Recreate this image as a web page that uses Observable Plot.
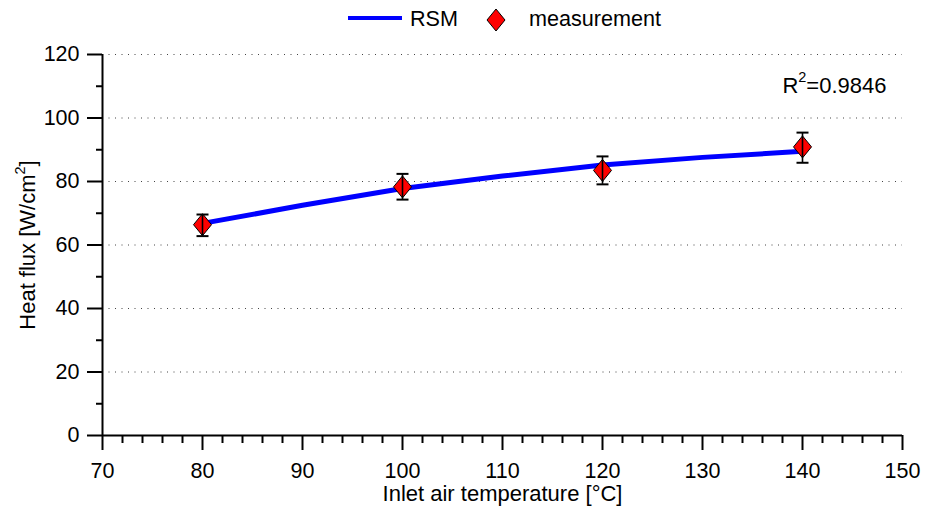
<!DOCTYPE html>
<html>
<head>
<meta charset="utf-8">
<script src="https://cdn.jsdelivr.net/npm/d3@7"></script>
<script src="https://cdn.jsdelivr.net/npm/@observablehq/plot@0.6"></script>
<style>
  html, body { margin: 0; padding: 0; background: #fff; }
  #wrap { position: relative; width: 925px; height: 510px; font-family: "Liberation Sans", Arial, Helvetica, sans-serif; }
  #legend { position: absolute; left: 0; top: 0; width: 925px; height: 40px; }
  #legend .sw-line { position: absolute; left: 348px; top: 15.5px; width: 54px; height: 4px; background: #0000ff; }
  #legend .lbl { position: absolute; font-size: 21.6px; line-height: 21px; color: #000; white-space: nowrap; }
  #legend svg { position: absolute; }
</style>
</head>
<body>
<div id="wrap">
  <div id="chart"></div>
  <div id="legend">
    <div class="sw-line"></div>
    <span class="lbl" id="lg-rsm" style="left:410px; top:8px;"></span>
    <svg width="22" height="24" style="left:484.5px; top:7.5px;"><polygon points="11,1 20,12 11,23 2,12" fill="#ff0000" stroke="#000" stroke-width="1"/></svg>
    <span class="lbl" id="lg-meas" style="left:529px; top:8px;"></span>
  </div>
</div>
<script>
// ---- data ----
const seriesNames = ["RSM", "measurement"];
const rsmT = [80, 90, 100, 110, 120, 130, 140];
const rsmQ = [66.8, 72.5, 77.8, 81.7, 85.2, 87.6, 89.5];
const measT = [80, 100, 120, 140];
const measQ = [66.4, 78.3, 83.5, 90.9];
const measLo = [62.8, 74.3, 79.1, 85.9];
const measHi = [69.6, 82.4, 87.9, 95.4];
const xTicks = [70, 80, 90, 100, 110, 120, 130, 140, 150];
const xMinorTicks = [72, 74, 76, 78, 82, 84, 86, 88, 92, 94, 96, 98, 102, 104, 106, 108, 112, 114, 116, 118, 122, 124, 126, 128, 132, 134, 136, 138, 142, 144, 146, 148];
const yTicks = [0, 20, 40, 60, 80, 100, 120];
const yMinorTicks = [10, 30, 50, 70, 90, 110];
const xLabel = "Inlet air temperature [°C]";
const yLabel = "Heat flux [W/cm2]";
const r2Label = "R2=0.9846";

// ---- tables ----
const rsm = rsmT.map((t, i) => ({t, q: rsmQ[i]}));
const meas = measT.map((t, i) => ({t, q: measQ[i], lo: measLo[i], hi: measHi[i]}));

document.getElementById("lg-rsm").textContent = seriesNames[0];
document.getElementById("lg-meas").textContent = seriesNames[1];

const diamondSym = {
  draw(ctx) {
    ctx.moveTo(0, -11); ctx.lineTo(9, 0); ctx.lineTo(0, 11); ctx.lineTo(-9, 0); ctx.closePath();
  }
};
const capSym = {
  draw(ctx) { ctx.moveTo(-6, 0); ctx.lineTo(6, 0); }
};

const chart = Plot.plot({
  width: 925,
  height: 510,
  marginLeft: 102,
  marginRight: 23,
  marginTop: 54,
  marginBottom: 75,
  style: {fontFamily: "'Liberation Sans', Arial, Helvetica, sans-serif", fontSize: "21.5px", color: "#000", background: "#fff"},
  x: {domain: [70, 150]},
  y: {domain: [0, 120]},
  marks: [
    Plot.gridY(yTicks.filter(v => v > 0), {stroke: "#444", strokeOpacity: 1, strokeWidth: 1, strokeDasharray: "1,5.5"}),
    Plot.line(rsm, {x: "t", y: "q", stroke: "#0000ff", strokeWidth: 5, strokeLinejoin: "round"}),
    Plot.dot(meas, {x: "t", y: "q", symbol: diamondSym, r: 9, fill: "#ff0000", stroke: "#000", strokeWidth: 1}),
    Plot.ruleX(meas, {x: "t", y1: "lo", y2: "hi", stroke: "#000", strokeWidth: 1.6}),
    Plot.dot(meas, {x: "t", y: "lo", symbol: capSym, r: 6, fill: "none", stroke: "#000", strokeWidth: 2}),
    Plot.dot(meas, {x: "t", y: "hi", symbol: capSym, r: 6, fill: "none", stroke: "#000", strokeWidth: 2}),
    Plot.axisX({ticks: xMinorTicks, tickSize: 8, fill: "none", strokeWidth: 2, label: null}),
    Plot.axisX({ticks: xTicks, tickSize: 15, tickPadding: 12, tickFormat: d => String(d), strokeWidth: 2, label: null}),
    Plot.axisY({ticks: yMinorTicks, tickSize: 6, fill: "none", strokeWidth: 2, label: null}),
    Plot.axisY({ticks: yTicks, tickSize: 15, tickPadding: 8, tickFormat: d => String(d), strokeWidth: 2, label: null}),
    Plot.ruleY([0], {stroke: "#000", strokeWidth: 2}),
    Plot.ruleX([70], {stroke: "#000", strokeWidth: 2}),
    Plot.text([xLabel], {frameAnchor: "bottom", dy: 65, lineAnchor: "bottom", textAnchor: "middle", fontSize: 22}),
    Plot.text([yLabel], {frameAnchor: "left", dx: -75, rotate: -90, lineAnchor: "middle", textAnchor: "middle", fontSize: 22}),
    Plot.text([r2Label], {frameAnchor: "top-right", dx: -16, dy: 38, lineAnchor: "bottom", textAnchor: "end", fontSize: 22})
  ]
});
document.getElementById("chart").appendChild(chart);

// superscripts
function supify(full, before, sup, after, shift) {
  d3.select(chart).selectAll("text").filter(function() { return this.textContent === full; }).each(function() {
    const t = d3.select(this);
    t.text("");
    t.append("tspan").text(before);
    t.append("tspan").attr("dy", -shift).attr("font-size", "14.5px").text(sup);
    t.append("tspan").attr("dy", shift).text(after);
  });
}
supify(yLabel, "Heat flux [W/cm", "2", "]", 10);
supify(r2Label, "R", "2", "=0.9846", 11);
</script>
</body>
</html>
